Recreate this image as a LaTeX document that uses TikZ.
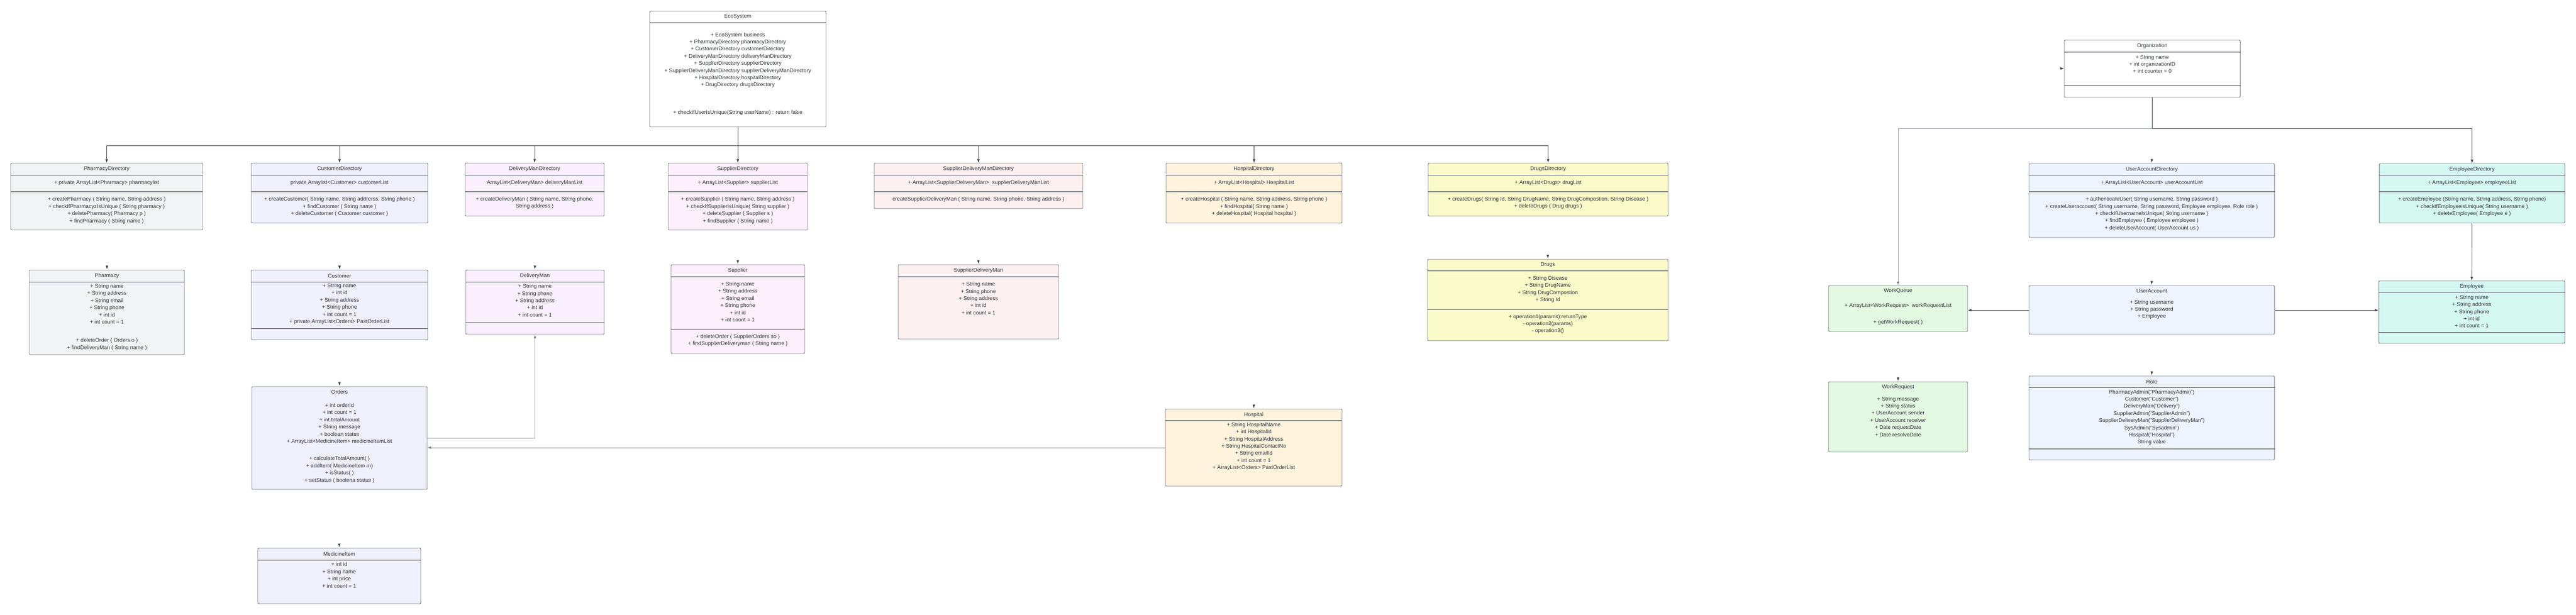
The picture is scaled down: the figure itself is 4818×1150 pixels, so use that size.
\documentclass[tikz,border=0pt]{standalone}
\usepackage{fontspec}
\setmainfont{Liberation Sans}
\usepackage{xcolor}
\usepackage{tikz}
\usetikzlibrary{fit,arrows.meta}

\definecolor{edgegray}{HTML}{6B717C}
\definecolor{wire}{HTML}{3B404A}
\definecolor{softwire}{HTML}{9A9EA5}
\definecolor{ink}{HTML}{30343A}
\definecolor{phfill}{HTML}{F2F3F5}
\definecolor{cufill}{HTML}{EFF0FC}
\definecolor{dmfill}{HTML}{FAEFFC}
\definecolor{sufill}{HTML}{FDEFFC}
\definecolor{sdfill}{HTML}{FDF0F0}
\definecolor{hofill}{HTML}{FFF3DD}
\definecolor{drfill}{HTML}{FBFAC9}
\definecolor{uafill}{HTML}{EDF4FE}
\definecolor{emfill}{HTML}{D5F8F1}
\definecolor{wqfill}{HTML}{E3F9E1}

\tikzset{
  cls/.style={draw=edgegray, line width=0.9pt, rounded corners=2pt, inner sep=0pt},
  divline/.style={draw=wire, line width=0.8pt},
  txt/.style={text=ink, align=center, inner sep=0pt, font=\fontsize{10}{13.4}\selectfont},
  arr/.style={draw=wire, line width=0.8pt, -{Latex[length=7pt,width=5pt]}},
  softarr/.style={arr, draw=softwire, -{Latex[length=7pt,width=5pt,fill=wire]}},
}

\begin{document}
\begin{tikzpicture}[x=1pt,y=-1pt]

\useasboundingbox (0,0) rectangle (4818,1150);

% EcoSystem and its directories
\node[cls, fill=white, fit={(1215,21) (1545,237)}] (eco) {};
\node[txt] (ecoT) at (1380,31) {EcoSystem};
\node[txt] (ecoA) at (1380,112.5) {+ EcoSystem business\\+ PharmacyDirectory pharmacyDirectory\\+ CustomerDirectory customerDirectory\\+ DeliveryManDirectory deliveryManDirectory\\+ SupplierDirectory supplierDirectory\\+ SupplierDeliveryManDirectory supplierDeliveryManDirectory\\+ HospitalDirectory hospitalDirectory\\+ DrugDirectory drugsDirectory};
\node[txt] (ecoM) at (1380,211) {+ checkIfUserIsUnique(String userName) : return false};

\node[cls, fill=phfill, fit={(20,305) (379,430)}] (phdir) {};
\node[txt] (phdirT) at (199.5,316) {PharmacyDirectory};
\node[txt] (phdirA) at (199.5,342) {+ private ArrayList<Pharmacy> pharmacylist};
\node[txt] (phdirM) at (199.5,393.5) {+ createPharmacy ( String name, String address )\\+ checkIfPharmacyzIsUnique ( String pharmacy )\\+ deletePharmacy( Pharmacy p )\\+ findPharmacy ( String name )};

\node[cls, fill=cufill, fit={(470,305) (800,417)}] (cudir) {};
\node[txt] (cudirT) at (635,316) {CustomerDirectory};
\node[txt] (cudirA) at (635,342) {private Arraylist<Customer> customerList};
\node[txt] (cudirM) at (635,386.5) {+ createCustomer( String name, String addrerss, String phone )\\+ findCustomer ( String name )\\+ deleteCustomer ( Customer customer )};

\node[cls, fill=dmfill, fit={(870,305) (1130,404)}] (dmdir) {};
\node[txt] (dmdirT) at (1000,316) {DeliveryManDirectory};
\node[txt] (dmdirA) at (1000,342) {ArrayList<DeliveryMan> deliveryManList};
\node[txt] (dmdirM) at (1000,379.5) {+ createDeliveryMan ( String name, String phone,\\String address )};

\node[cls, fill=sufill, fit={(1250,305) (1510,430)}] (sudir) {};
\node[txt] (sudirT) at (1380,316) {SupplierDirectory};
\node[txt] (sudirA) at (1380,342) {+ ArrayList<Supplier> supplierList};
\node[txt] (sudirM) at (1380,393.5) {+ createSupplier ( String name, String address )\\+ checkIfSupplierIsUnique( String supplier )\\+ deleteSupplier ( Supplier s )\\+ findSupplier ( String name )};

\node[cls, fill=sdfill, fit={(1635,305) (2025,390)}] (sddir) {};
\node[txt] (sddirT) at (1830,316) {SupplierDeliveryManDirectory};
\node[txt] (sddirA) at (1830,342) {+ ArrayList<SupplierDeliveryMan>~~supplierDeliveryManList};
\node[txt] (sddirM) at (1830,373) {createSupplierDeliveryMan ( String name, String phone, String address )};

\node[cls, fill=hofill, fit={(2181,305) (2510,417)}] (hodir) {};
\node[txt] (hodirT) at (2345.5,316) {HospitalDirectory};
\node[txt] (hodirA) at (2345.5,342) {+ ArrayList<Hospital> HospitalList};
\node[txt] (hodirM) at (2345.5,386.5) {+ createHospital ( String name, String address, String phone )\\+ findHospital( String name )\\+ deleteHospital( Hospital hospital )};

\node[cls, fill=drfill, fit={(2671,305) (3120,404)}] (drdir) {};
\node[txt] (drdirT) at (2895.5,316) {DrugsDirectory};
\node[txt] (drdirA) at (2895.5,342) {+ ArrayList<Drugs> drugList};
\node[txt] (drdirM) at (2895.5,379.5) {+ createDrugs( String Id, String DrugName, String DrugCompostion, String Disease )\\+ deleteDrugs ( Drug drugs )};

% classes below the directories
\node[cls, fill=phfill, fit={(55,505) (345,663)}] (ph) {};
\node[txt] (phT) at (200,516) {Pharmacy};
\node[txt] (phA) at (200,568.5) {+ String name\\+ String address\\+ String email\\+ String phone\\+ int id\\+ int count = 1};
\node[txt] (phM) at (200,644) {+ deleteOrder ( Orders o )\\+ findDeliveryMan ( String name )};

\node[cls, fill=cufill, fit={(470,505) (800,635)}] (cu) {};
\node[txt] (cuT) at (635,516) {Customer};
\node[txt] (cuA) at (635,568.5) {+ String name\\+ int id\\+ String address\\+ String phone\\+ int count = 1\\+ private ArrayList<Orders> PastOrderList};

\node[cls, fill=dmfill, fit={(871,505) (1130,625)}] (dm) {};
\node[txt] (dmT) at (1000.5,516) {DeliveryMan};
\node[txt] (dmA) at (1000.5,562) {+ String name\\+ String phone\\+ String address\\+ int id\\+ int count = 1};

\node[cls, fill=sufill, fit={(1255,495) (1505,661)}] (su) {};
\node[txt] (suT) at (1380,506) {Supplier};
\node[txt] (suA) at (1380,564.5) {+ String name\\+ String address\\+ String email\\+ String phone\\+ int id\\+ int count = 1};
\node[txt] (suM) at (1380,636.5) {+ deleteOrder ( SupplierOrders so )\\+ findSupplierDeliveryman ( String name )};

\node[cls, fill=sdfill, fit={(1680,495) (1980,634)}] (sd) {};
\node[txt] (sdT) at (1830,506) {SupplierDeliveryMan};
\node[txt] (sdA) at (1830,558) {+ String name\\+ String phone\\+ String address\\+ int id\\+ int count = 1};

\node[cls, fill=cufill, fit={(471,723) (799,915)}] (orders) {};
\node[txt] (ordersT) at (635,733) {Orders};
\node[txt] (ordersA) at (635,792.5) {+ int orderId\\+ int count = 1\\+ int totalAmount\\+ String message\\+ boolean status\\+ ArrayList<MedicineItem> medicineItemList};
\node[txt] (ordersM) at (635,878.5) {+ calculateTotalAmount( )\\+ addItem( MedicineItem m)\\+ isStatus( )\\+ setStatus ( boolena status )};

\node[cls, fill=cufill, fit={(482,1025) (787,1129)}] (med) {};
\node[txt] (medT) at (634.5,1036) {MedicineItem};
\node[txt] (medA) at (634.5,1075.5) {+ int id\\+ String name\\+ int price\\+ int count = 1};

\node[cls, fill=hofill, fit={(2180,765) (2510,909)}] (ho) {};
\node[txt] (hoT) at (2345,775.5) {Hospital};
\node[txt] (hoA) at (2345,835) {+ String HospitalName\\+ int HospitalId\\+ String HospitalAddress\\+ String HospitalContactNo\\+ String emailId\\+ int count = 1\\+ ArrayList<Orders> PastOrderList};

\node[cls, fill=drfill, fit={(2670,485) (3120,637)}] (dr) {};
\node[txt] (drT) at (2895,495.5) {Drugs};
\node[txt] (drA) at (2895,541) {+ String Disease\\+ String DrugName\\+ String DrugCompostion\\+ String Id};
\node[txt] (drM) at (2895,606) {+ operation1(params):returnType\\- operation2(params)\\- operation3()};

% Organization side
\node[cls, fill=white, fit={(3861,75) (4190,182)}] (org) {};
\node[txt] (orgT) at (4025.5,86) {Organization};
\node[txt] (orgA) at (4025.5,120) {+ String name\\+ int organizationID\\+ int counter = 0};

\node[cls, fill=uafill, fit={(3795,306) (4254,444)}] (uadir) {};
\node[txt] (uadirT) at (4024.5,316.5) {UserAccountDirectory};
\node[txt] (uadirA) at (4024.5,342) {+ ArrayList<UserAccount> userAccountList};
\node[txt] (uadirM) at (4024.5,400) {+ authenticateUser( String username, String password )\\+ createUseraccount( String username, String password, Employee employee, Role role )\\+ checkIfUsernameIsUnique( String username )\\+ findEmployee ( Employee employee )\\+ deleteUserAccount( UserAccount us )};

\node[cls, fill=emfill, fit={(4450,306) (4797,417)}] (emdir) {};
\node[txt] (emdirT) at (4623.5,316.5) {EmployeeDirectory};
\node[txt] (emdirA) at (4623.5,342) {+ ArrayList<Employee> employeeList};
\node[txt] (emdirM) at (4623.5,386.5) {+ createEmployee (String name, String address, String phone)\\+ checkIfEmployeeisUnique( String username )\\+ deleteEmployee( Employee e )};

\node[cls, fill=wqfill, fit={(3420,534) (3680,620)}] (wq) {};
\node[txt] (wqT) at (3550,544) {WorkQueue};
\node[txt] (wqA) at (3550,572) {+ ArrayList<WorkRequest>~~workRequestList};
\node[txt] (wqM) at (3550,603) {+ getWorkRequest( )};

\node[cls, fill=uafill, fit={(3795,534) (4254,625)}] (ua) {};
\node[txt] (uaT) at (4024.5,544) {UserAccount};
\node[txt] (uaA) at (4024.5,579) {+ String username\\+ String password\\+ Employee};

\node[cls, fill=emfill, fit={(4449,525) (4797,642)}] (em) {};
\node[txt] (emT) at (4623,535.5) {Employee};
\node[txt] (emA) at (4623,582.5) {+ String name\\+ String address\\+ String phone\\+ int id\\+ int count = 1};

\node[cls, fill=wqfill, fit={(3420,714) (3680,845)}] (wr) {};
\node[txt] (wrT) at (3550,724) {WorkRequest};
\node[txt] (wrA) at (3550,779) {+ String message\\+ String status\\+ UserAccount sender\\+ UserAccount receiver\\+ Date requestDate\\+ Date resolveDate};

\node[cls, fill=uafill, fit={(3795,703) (4254,860)}] (role) {};
\node[txt] (roleT) at (4024.5,713.5) {Role};
\node[txt] (roleA) at (4024.5,780.5) {PharmacyAdmin("PharmacyAdmin")\\Customer("Customer")\\DeliveryMan("Delivery")\\SupplierAdmin("SupplierAdmin")\\SupplierDeliveryMan("SupplierDeliveryMan")\\SysAdmin("Sysadmin")\\Hospital("Hospital")\\String value};

% compartment lines
\foreach \n/\y in {eco/42, phdir/327, phdir/358, cudir/327, cudir/358, dmdir/327, dmdir/358,
    sudir/327, sudir/358, sddir/327, sddir/358, hodir/327, hodir/358, drdir/327, drdir/358,
    ph/527, cu/527, cu/614, dm/527, dm/603, su/517, su/615, sd/517, med/1047, ho/786,
    dr/506, dr/578, org/97, org/159, uadir/327, uadir/358, emdir/327, emdir/358,
    em/546, em/621, role/724, role/839}{
	\draw[divline] (\n.west |- 0,\y) -- (\n.east |- 0,\y);
}

% connectors
\coordinate (bus) at (1380,272);
\draw[draw=wire, line width=0.8pt] (eco.south) -- (bus);
\foreach \d in {phdir,cudir,dmdir,sudir,sddir,hodir,drdir}{
	\draw[arr] (bus) -| (\d.north);
}

\coordinate (obus) at (4025.5,240);
\draw[draw=wire, line width=0.8pt] (org.south) -- (obus);
\draw[softarr] (obus) -| (wq.north);
\draw[arr] (obus) -| (emdir.north);
\coordinate (orgin) at (3853,128);
\draw[arr] (orgin) -- (org.west |- orgin);

% only the heads of these show
\foreach \b in {ph,cu,dm,su,sd,ho,dr,orders,med,uadir,ua,wr,role}{
	\draw[arr] ([yshift=8pt]\b.north) -- ([yshift=1pt]\b.north);
}

\draw[softarr] (orders.east |- 0,819) -| (dm.south);
\draw[arr, draw=gray] (ho.west |- 0,837) -- (orders.east |- 0,837);
\draw[arr] (ua.west |- 0,580) -- (wq.east |- 0,580);
\draw[arr] (ua.east |- 0,580) -- (em.west |- 0,580);
\draw[arr] (emdir.south) -- (em.north);

\end{tikzpicture}
\end{document}
